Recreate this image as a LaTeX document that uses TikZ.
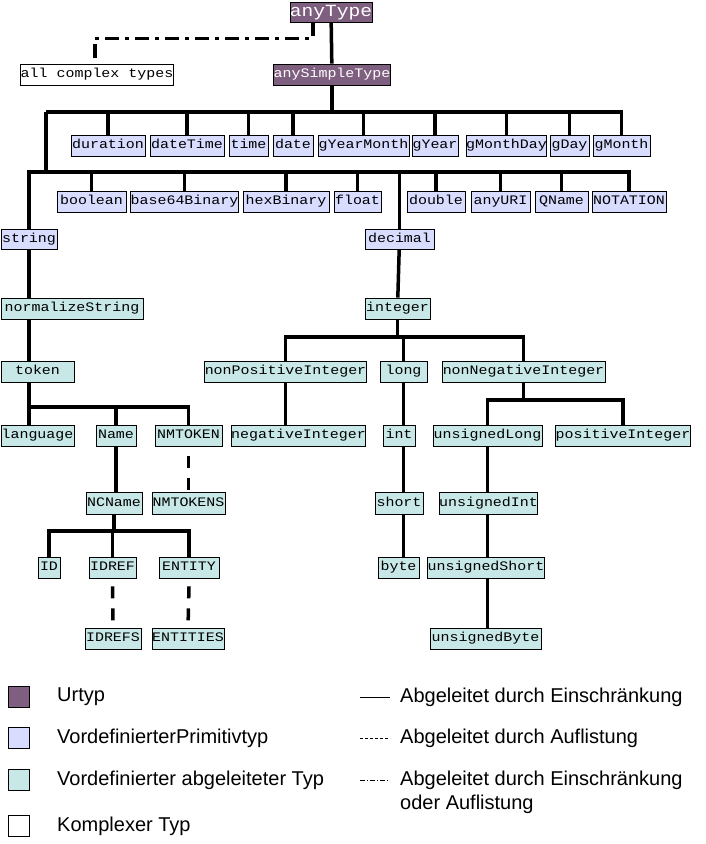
\documentclass[tikz,border=0pt]{standalone}
\usepackage{fontspec}
\setmainfont{Liberation Sans}
\newfontfamily\boxfont[FakeStretch=1.15]{Liberation Mono}
\begin{document}
\begin{tikzpicture}[x=1pt,y=-1pt,
  bx/.style={draw=black,line width=0.8pt,inner sep=0pt,text height=8.5pt,text depth=2.5pt,font=\boxfont\fontsize{13}{13}\selectfont},
  ur/.style={bx,fill=urc,text=white},
  prim/.style={bx,fill=primc},
  der/.style={bx,fill=derc},
  cx/.style={bx,fill=white},
  link/.style={line width=3.5pt},
  lst/.style={line width=3.5pt,dash pattern=on 12pt off 10pt},
  legtext/.style={anchor=west,font=\fontsize{20}{22}\selectfont,inner sep=0pt}]
\definecolor{urc}{HTML}{7F5F7F}
\definecolor{primc}{HTML}{D8DCFF}
\definecolor{derc}{HTML}{C8E8E8}
\useasboundingbox (0,0) rectangle (706,844);
\newcommand\bx[6]{\node[#6,minimum width={#3-#2},minimum height={#5-#4}] (#1) at ({(#2+#3)/2},{(#4+#5)/2}) {#1};}
\newcommand\bxt[7]{\node[#6,minimum width={#3-#2},minimum height={#5-#4}] (#1) at ({(#2+#3)/2},{(#4+#5)/2}) {#7};}
% nodes
\bxt{anyType}{293}{369}{2}{22}{ur,text height=11pt,text depth=3pt}{\fontsize{17}{17}\selectfont anyType}
\bxt{complex}{22}{172}{64}{85}{cx}{all complex types}
\bx{anySimpleType}{274}{390}{64}{85}{ur}
\bx{duration}{71}{145}{135}{156}{prim}
\bx{dateTime}{150}{224}{135}{156}{prim}
\bx{time}{229}{268}{135}{156}{prim}
\bx{date}{273}{313}{135}{156}{prim}
\bx{gYearMonth}{318}{409}{135}{156}{prim}
\bx{gYear}{412}{458}{135}{156}{prim}
\bx{gMonthDay}{467}{546}{135}{156}{prim}
\bx{gDay}{550}{589}{135}{156}{prim}
\bx{gMonth}{593}{650}{135}{156}{prim}
\bx{boolean}{57}{126}{191}{212}{prim}
\bx{base64Binary}{131}{238}{191}{212}{prim}
\bx{hexBinary}{243}{329}{191}{212}{prim}
\bx{float}{334}{381}{191}{212}{prim}
\bx{double}{407}{465}{191}{212}{prim}
\bx{anyURI}{471}{530}{191}{212}{prim}
\bx{QName}{535}{588}{191}{212}{prim}
\bx{NOTATION}{592}{666}{191}{212}{prim}
\bx{string}{1}{57}{229}{249}{prim}
\bx{decimal}{365}{434}{229}{249}{prim}
\bx{normalizeString}{1}{143}{298}{319}{der}
\bx{integer}{365}{430}{298}{319}{der}
\bx{token}{1}{74}{361}{382}{der}
\bx{nonPositiveInteger}{206}{365}{361}{382}{der}
\bx{long}{380}{427}{361}{382}{der}
\bx{nonNegativeInteger}{442}{605}{361}{382}{der}
\bx{language}{1}{74}{425}{446}{der}
\bx{Name}{96}{136}{425}{446}{der}
\bx{NMTOKEN}{155}{222}{425}{446}{der}
\bx{negativeInteger}{232}{365}{425}{446}{der}
\bx{int}{383}{415}{425}{446}{der}
\bx{unsignedLong}{433}{542}{425}{446}{der}
\bx{positiveInteger}{557}{689}{425}{446}{der}
\bx{NCName}{86}{142}{492}{514}{der}
\bx{NMTOKENS}{152}{225}{492}{514}{der}
\bx{short}{375}{423}{492}{514}{der}
\bx{unsignedInt}{440}{537}{492}{514}{der}
\bx{ID}{38}{60}{557}{578}{der}
\bx{IDREF}{89}{136}{557}{578}{der}
\bx{ENTITY}{159}{219}{557}{578}{der}
\bx{byte}{378}{419}{557}{578}{der}
\bx{unsignedShort}{428}{544}{557}{578}{der}
\bx{IDREFS}{85}{141}{628}{649}{der}
\bx{ENTITIES}{152}{224}{628}{649}{der}
\bx{unsignedByte}{430}{541}{628}{649}{der}
% bus coordinates
\coordinate (b1) at (0,112);
\coordinate (b2) at (0,172);
\coordinate (bi) at (0,337);
\coordinate (bt) at (0,407);
\coordinate (bn) at (0,400);
\coordinate (bc) at (0,531);
\coordinate (l1) at (46,112);
% anyType links
\draw[line width=3.5pt,dash pattern=on 14pt off 6pt on 4pt off 6pt]
  ([xshift=-18pt]anyType.south) -- ++(0,16) -| (complex.north -| 95,0);
\draw[link] (anyType) -- (anySimpleType);
\draw[link] (anySimpleType.south) -- (anySimpleType.south |- b1);
\draw[link] (l1) -- (gMonth.north |- b1) -- (gMonth.north);
\foreach \n in {duration,dateTime,time,date,gYearMonth,gYear,gMonthDay,gDay}
  \draw[link] (\n.north |- b1) -- (\n.north);
\draw[link] (l1) -- (l1 |- b2);
\draw[link] (string.north) -- (string.north |- b2) -- (NOTATION.north |- b2) -- (NOTATION.north);
\foreach \n in {boolean,base64Binary,hexBinary,float,double,anyURI,QName}
  \draw[link] (\n.north |- b2) -- (\n.north);
\draw[link] (decimal.north |- b2) -- (decimal.north);
\draw[link] (string) -- (normalizeString.north -| string);
\draw[link] (normalizeString.south -| string) -- (token.north -| string);
\draw[link] (decimal) -- (integer);
\draw[link] (integer.south) -- (integer.south |- bi);
\draw[link] (nonPositiveInteger.north) -- (nonPositiveInteger.north |- bi) -- (nonNegativeInteger.north |- bi) -- (nonNegativeInteger.north);
\draw[link] (long.north |- bi) -- (long.north);
\draw[link] (token.south -| string) -- (string |- bt) -- (NMTOKEN.north |- bt) -- (NMTOKEN.north);
\draw[link] (language.north -| string) -- (string |- bt);
\draw[link] (Name.north |- bt) -- (Name.north);
\draw[link] (nonPositiveInteger.south) -- (negativeInteger.north -| nonPositiveInteger);
\draw[link] (long) -- (int.north -| long);
\draw[link] (int.south -| long) -- (short.north -| long);
\draw[link] (short.south -| long) -- (byte.north -| long);
\draw[link] (nonNegativeInteger.south) -- (nonNegativeInteger.south |- bn);
\draw[link] (unsignedLong.north) -- (unsignedLong.north |- bn) -- (positiveInteger.north |- bn) -- (positiveInteger.north);
\draw[link] (unsignedLong.south) -- (unsignedInt.north -| unsignedLong);
\draw[link] (unsignedInt.south -| unsignedLong) -- (unsignedShort.north -| unsignedLong);
\draw[link] (unsignedShort.south -| unsignedLong) -- (unsignedByte.north -| unsignedLong);
\draw[link] (Name) -- (NCName.north -| Name);
\draw[lst] (NMTOKEN.south) ++(0,10) -- (NMTOKENS.north);
\draw[link] (NCName.south) -- (NCName.south |- bc);
\draw[link] (ID.north) -- (ID.north |- bc) -- (ENTITY.north |- bc) -- (ENTITY.north);
\draw[link] (IDREF.north |- bc) -- (IDREF.north);
\draw[lst] (IDREF.south) ++(0,8) -- (IDREFS.north);
\draw[lst] (ENTITY.south) ++(0,8) -- (ENTITIES.north);
% legend
\node[draw,line width=0.8pt,fill=urc,minimum size=21pt,inner sep=0pt] (k1) at (19,697) {};
\node[draw,line width=0.8pt,fill=primc,minimum size=21pt,inner sep=0pt] (k2) at (19,738) {};
\node[draw,line width=0.8pt,fill=derc,minimum size=21pt,inner sep=0pt] (k3) at (19,780) {};
\node[draw,line width=0.8pt,fill=white,minimum size=21pt,inner sep=0pt] (k4) at (19,826) {};
\node[legtext] (t1) at (57,697) {Urtyp};
\node[legtext] (t2) at (57,738) {VordefinierterPrimitivtyp};
\node[legtext] (t3) at (57,780) {Vordefinierter abgeleiteter Typ};
\node[legtext] (t4) at (57,826) {Komplexer Typ};
\coordinate (m1a) at (360,697); \coordinate (m1b) at (390,697);
\coordinate (m2a) at (360,738); \coordinate (m2b) at (390,738);
\coordinate (m3a) at (360,780); \coordinate (m3b) at (390,780);
\draw[line width=0.8pt] (m1a) -- (m1b);
\draw[line width=0.8pt,dash pattern=on 3pt off 2pt] (m2a) -- (m2b);
\draw[line width=0.8pt,dash pattern=on 5pt off 2pt on 1pt off 2pt] (m3a) -- (m3b);
\node[legtext] (r1) at (400,697) {Abgeleitet durch Einschränkung};
\node[legtext] (r2) at (400,738) {Abgeleitet durch Auflistung};
\node[legtext] (r3) at (400,780) {Abgeleitet durch Einschränkung};
\node[legtext] (r4) at (400,804) {oder Auflistung};
\end{tikzpicture}
\end{document}
